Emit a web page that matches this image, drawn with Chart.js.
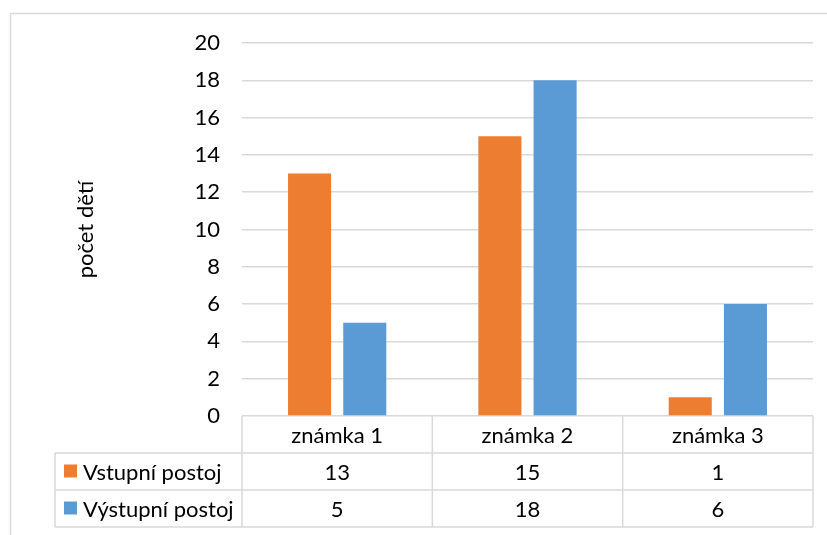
<!DOCTYPE html>
<html>
<head>
<meta charset="utf-8">
<script src="https://cdn.jsdelivr.net/npm/chart.js@4.4.1/dist/chart.umd.min.js"></script>
<style>
  html, body { margin: 0; padding: 0; background: #fff; }
  #wrap { width: 827px; height: 535px; position: relative; }
</style>
</head>
<body>
<div id="wrap"><canvas id="c" width="827" height="535"></canvas></div>
<script>
// Categories and series
const categories = ['známka 1', 'známka 2', 'známka 3'];
const seriesNames = ['Vstupní postoj', 'Výstupní postoj'];
const vstupni = [13, 15, 1];
const vystupni = [5, 18, 6];
const yTicks = [0, 2, 4, 6, 8, 10, 12, 14, 16, 18, 20];

const ORANGE = '#ED7D31';
const BLUE = '#5B9BD5';
const GRID = '#D9D9D9';
const TEXT = '#000000';
const FONT = 'Lato, "Open Sans", sans-serif';
const FSIZE = 22;

const ROW_H = 37;
const TABLE_LEFT = 55;

// Chart frame and data table below the plot
const tablePlugin = {
  id: 'dataTable',
  beforeDraw(chart) {
    const ctx = chart.ctx;
    ctx.save();
    ctx.fillStyle = '#fff';
    ctx.fillRect(0, 0, chart.width, chart.height);
    ctx.strokeStyle = GRID;
    ctx.lineWidth = 1.5;
    ctx.strokeRect(10.5, 13.5, chart.width + 20, chart.height + 20);
    ctx.restore();
  },
  afterDraw(chart) {
    const ctx = chart.ctx;
    const area = chart.chartArea;
    const x = chart.scales.x;
    const top = area.bottom;
    const rows = [vstupni, vystupni];
    const colors = [ORANGE, BLUE];
    const n = categories.length;
    const step = (area.right - area.left) / n;

    ctx.save();
    ctx.strokeStyle = GRID;
    ctx.lineWidth = 1.5;
    ctx.beginPath();
    // horizontal lines
    for (let r = 1; r <= rows.length + 1; r++) {
      const y = top + r * ROW_H;
      ctx.moveTo(TABLE_LEFT, y);
      ctx.lineTo(area.right, y);
    }
    // vertical lines
    const bottom = top + (rows.length + 1) * ROW_H;
    ctx.moveTo(TABLE_LEFT, top + ROW_H);
    ctx.lineTo(TABLE_LEFT, bottom);
    for (let i = 0; i <= n; i++) {
      const xx = area.left + i * step;
      ctx.moveTo(xx, top);
      ctx.lineTo(xx, bottom);
    }
    ctx.stroke();

    ctx.font = FSIZE + 'px ' + FONT;
    ctx.fillStyle = TEXT;
    ctx.textBaseline = 'middle';
    rows.forEach((vals, r) => {
      const cy = top + ROW_H * (r + 1) + ROW_H / 2;
      // legend key
      ctx.fillStyle = colors[r];
      ctx.fillRect(64, cy - 7, 13, 13);
      ctx.fillStyle = TEXT;
      ctx.textAlign = 'left';
      ctx.fillText(seriesNames[r], 83, cy + 1);
      ctx.textAlign = 'center';
      vals.forEach((v, i) => {
        ctx.fillText(String(v), x.getPixelForValue(i), cy + 1);
      });
    });
    ctx.restore();
  }
};

new Chart(document.getElementById('c'), {
  type: 'bar',
  data: {
    labels: categories,
    datasets: [
      { label: seriesNames[0], data: vstupni, backgroundColor: ORANGE,
        categoryPercentage: 0.58, barPercentage: 0.78 },
      { label: seriesNames[1], data: vystupni, backgroundColor: BLUE,
        categoryPercentage: 0.58, barPercentage: 0.78 }
    ]
  },
  options: {
    responsive: false,
    animation: false,
    devicePixelRatio: 1,
    layout: { padding: { left: 73, top: 43, right: 14, bottom: 8 } },
    plugins: {
      legend: { display: false },
      tooltip: { enabled: false }
    },
    scales: {
      x: {
        grid: { display: false, drawTicks: false },
        border: { display: false },
        ticks: { color: TEXT, font: { family: FONT, size: FSIZE }, padding: 7 },
        afterFit(scale) { scale.height = ROW_H * 3; }
      },
      y: {
        min: 0, max: 20,
        afterBuildTicks(scale) { scale.ticks = yTicks.map(v => ({ value: v })); },
        grid: { color: GRID, lineWidth: 1.5, drawTicks: false },
        border: { display: false },
        ticks: { color: TEXT, font: { family: FONT, size: FSIZE }, padding: 22 },
        title: { display: true, text: 'počet dětí', color: TEXT,
                 font: { family: FONT, size: FSIZE }, padding: { top: 0, bottom: 0 } },
        afterFit(scale) { scale.width = 242 - 73; }
      }
    }
  },
  plugins: [tablePlugin]
});
</script>
</body>
</html>
